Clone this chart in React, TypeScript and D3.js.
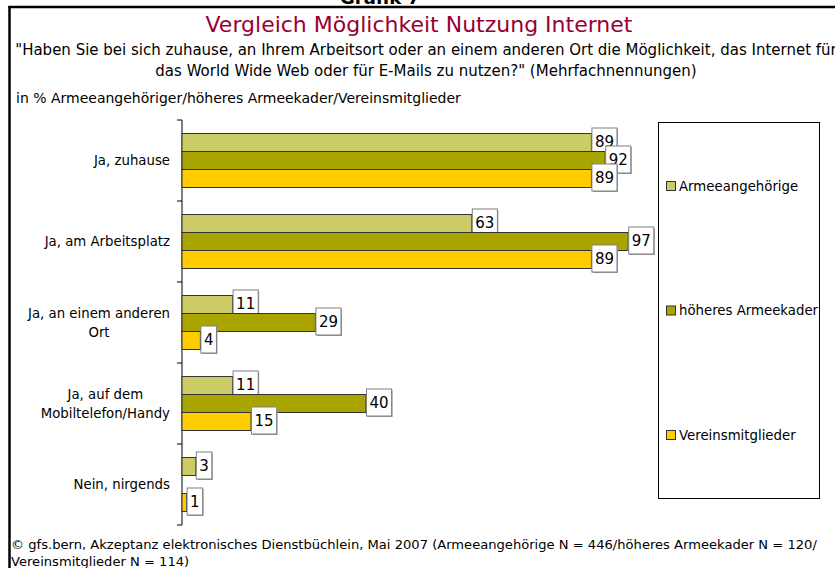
import { scaleBand, scaleLinear, scalePoint } from "d3";

const categories = [
  ["Ja, zuhause"],
  ["Ja, am Arbeitsplatz"],
  ["Ja, an einem anderen", "Ort"],
  ["Ja, auf dem", "Mobiltelefon/Handy"],
  ["Nein, nirgends"],
];
const seriesNames = ["Armeeangehörige", "höheres Armeekader", "Vereinsmitglieder"];
const armeeangehoerige = [89, 63, 11, 11, 3];
const hoeheresKader = [92, 97, 29, 40, 0];
const vereinsmitglieder = [89, 89, 4, 15, 1];
const seriesColors = ["#CCCC66", "#A9A400", "#FFCC00"];

const series = [armeeangehoerige, hoeheresKader, vereinsmitglieder];

const FONT = "'DejaVu Sans', sans-serif";

let ctx: CanvasRenderingContext2D | null = null;
function textWidth(text: string, size: number) {
  if (!ctx) ctx = document.createElement("canvas").getContext("2d");
  if (!ctx) return text.length * size * 0.55;
  ctx.font = `${size}px 'DejaVu Sans'`;
  return ctx.measureText(text).width;
}

export default function App() {
  const width = 835;
  const height = 568;
  const axisX = 182;
  const x = scaleLinear().domain([0, 100]).range([axisX, 642]);
  const y = scaleBand<number>().domain(categories.map((_, i) => i)).range([120, 525]);
  const inner = scaleBand<number>()
    .domain(series.map((_, i) => i))
    .range([13.5, y.bandwidth() - 13.5]);
  const legendY = scalePoint<string>().domain(seriesNames).range([186, 435]);
  const catSize = 13.3;
  const labelSize = 15;
  const ticks = [...categories.map((_, i) => y(i) ?? 0), 525];

  return (
    <svg
      width={width}
      height={height}
      style={{ position: "absolute", left: 0, top: 0, background: "#fff", fontFamily: FONT }}
    >
      {/* page frame */}
      <text x={380} y={4} textAnchor="middle" fontSize={18} fontWeight="bold" fill="#000">
        Grafik 7
      </text>
      <rect x={0} y={6} width={width} height={6} fill="#fff" />
      <line x1={8.5} x2={width} y1={7} y2={7} stroke="#000" strokeWidth={2.5} />
      <line x1={9.5} x2={9.5} y1={6} y2={height} stroke="#000" strokeWidth={2.5} />

      <text x={419} y={31.5} textAnchor="middle" fontSize={22} fill="#990033">
        Vergleich Möglichkeit Nutzung Internet
      </text>
      <text x={426} y={55} textAnchor="middle" fontSize={15} fill="#000">
        "Haben Sie bei sich zuhause, an Ihrem Arbeitsort oder an einem anderen Ort die Möglichkeit, das Internet für
      </text>
      <text x={426} y={76} textAnchor="middle" fontSize={15} fill="#000">
        das World Wide Web oder für E-Mails zu nutzen?" (Mehrfachnennungen)
      </text>
      <text x={16} y={103} fontSize={14} fill="#000">
        in % Armeeangehöriger/höheres Armeekader/Vereinsmitglieder
      </text>

      {/* axis */}
      <line x1={axisX} x2={axisX} y1={120} y2={525} stroke="#000" strokeWidth={1} />
      {ticks.map((t, i) => (
        <line key={i} x1={axisX - 5} x2={axisX} y1={t} y2={t} stroke="#000" strokeWidth={1} />
      ))}

      {/* category labels */}
      {categories.map((lines, i) => {
        const center = (y(i) ?? 0) + y.bandwidth() / 2;
        const maxW = Math.max(...lines.map((l) => textWidth(l, catSize)));
        const cx = 170 - maxW / 2;
        return lines.map((l, j) => (
          <text
            key={`${i}-${j}`}
            x={cx}
            y={center + (j - (lines.length - 1) / 2) * 19}
            dy="0.35em"
            textAnchor="middle"
            fontSize={catSize}
            fill="#000"
          >
            {l}
          </text>
        ));
      })}

      {/* bars */}
      {categories.map((_, i) =>
        series.map((values, s) => {
          const v = values[i];
          const by = (y(i) ?? 0) + (inner(s) ?? 0);
          const bh = inner.bandwidth();
          if (!v) return null;
          const w = x(v) - axisX;
          const label = String(v);
          const boxW = textWidth(label, labelSize) + 6;
          const boxH = 27;
          const bx = x(v) + 0.5;
          const bcy = by + bh / 2 - 1;
          return (
            <g key={`${i}-${s}`}>
              <rect x={axisX} y={by} width={w} height={bh} fill={seriesColors[s]} stroke="#333" strokeWidth={1} />
              <rect x={bx + 1} y={bcy - boxH / 2 + 1} width={boxW} height={boxH} fill="#999" />
              <rect
                x={bx}
                y={bcy - boxH / 2}
                width={boxW}
                height={boxH}
                fill="#fff"
                stroke="#808080"
                strokeWidth={1}
              />
              <text x={bx + boxW / 2} y={bcy} dy="0.36em" textAnchor="middle" fontSize={labelSize} fill="#000">
                {label}
              </text>
            </g>
          );
        })
      )}

      {/* legend */}
      <rect x={658.5} y={122.5} width={161} height={376} fill="#fff" stroke="#000" strokeWidth={1} />
      {seriesNames.map((name, s) => {
        const ly = legendY(name) ?? 0;
        return (
          <g key={name}>
            <rect x={666.5} y={ly - 4.5} width={9} height={9} fill={seriesColors[s]} stroke="#333" strokeWidth={1} />
            <text x={679} y={ly} dy="0.35em" fontSize={catSize} fill="#000">
              {name}
            </text>
          </g>
        );
      })}

      {/* footer */}
      <text x={11} y={549} fontSize={13.1} fill="#000">
        © gfs.bern, Akzeptanz elektronisches Dienstbüchlein, Mai 2007 (Armeeangehörige N =  446/höheres Armeekader N = 120/
      </text>
      <text x={11} y={566} fontSize={13.1} fill="#000">
        Vereinsmitglieder N = 114)
      </text>
    </svg>
  );
}
